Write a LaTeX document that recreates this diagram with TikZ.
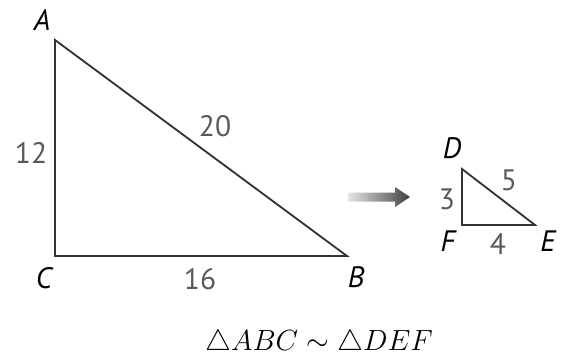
\documentclass[tikz,border=0pt]{standalone}
\usepackage{amsmath}
\usepackage{amssymb}
\usepackage{fontspec}
\setsansfont{PT Sans}
\usetikzlibrary{arrows.meta,calc}
\tikzset{
  lbl/.style={font=\sffamily\itshape\fontsize{21}{24}\selectfont, inner sep=0pt},
  num/.style={font=\sffamily\fontsize{21}{24}\selectfont, text=black!65, inner sep=0pt},
  side/.style={line width=1.3pt, black!80},
}
\begin{document}
\begin{tikzpicture}[x=0.025cm, y=-0.025cm]
\useasboundingbox (0,0) rectangle (566,361);
\def\ax{55};
\def\ay{40};
\def\by{256};
\coordinate (A) at (\ax,\ay);
\coordinate (C) at (\ax,\by);
\coordinate (B) at (347,\by);
\coordinate (D) at (462,169);
\coordinate (F) at (462,225);
\coordinate (E) at (535,225);
\node[lbl] (lA) at (42,20) {A};
\node[lbl] (lC) at (44,278) {C};
\node[lbl] (lB) at (356,277) {B};
\node[num] (n12) at (31,153) {12};
\node[num] (n20) at (215,126) {20};
\node[num] (n16) at (200,279) {16};
\node[lbl] (lD) at (452,148) {D};
\node[lbl] (lF) at (448,241) {F};
\node[lbl] (lE) at (548,241) {E};
\node[num] (n3) at (447,199) {3};
\node[num] (n5) at (509,180) {5};
\node[num] (n4) at (498,244) {4};
\draw[side] (A) -- (C) -- (B) -- cycle;
\draw[side] (D) -- (F) -- (E) -- cycle;
% arrow between the two triangles
\coordinate (p) at (348,197);
\coordinate (q) at (410,197);
\shade[left color=black!10, right color=black!75]
  ($(p)+(0,-4.5)$) -- ($(q)+(-15,-4.5)$) -- ($(q)+(-15,-10)$) -- (q)
  -- ($(q)+(-15,10)$) -- ($(q)+(-15,4.5)$) -- ($(p)+(0,4.5)$) -- cycle;
\node (cap) at (319,343) {\fontsize{20.74}{24}\selectfont$\triangle ABC \sim \triangle DEF$};
\end{tikzpicture}
\end{document}
